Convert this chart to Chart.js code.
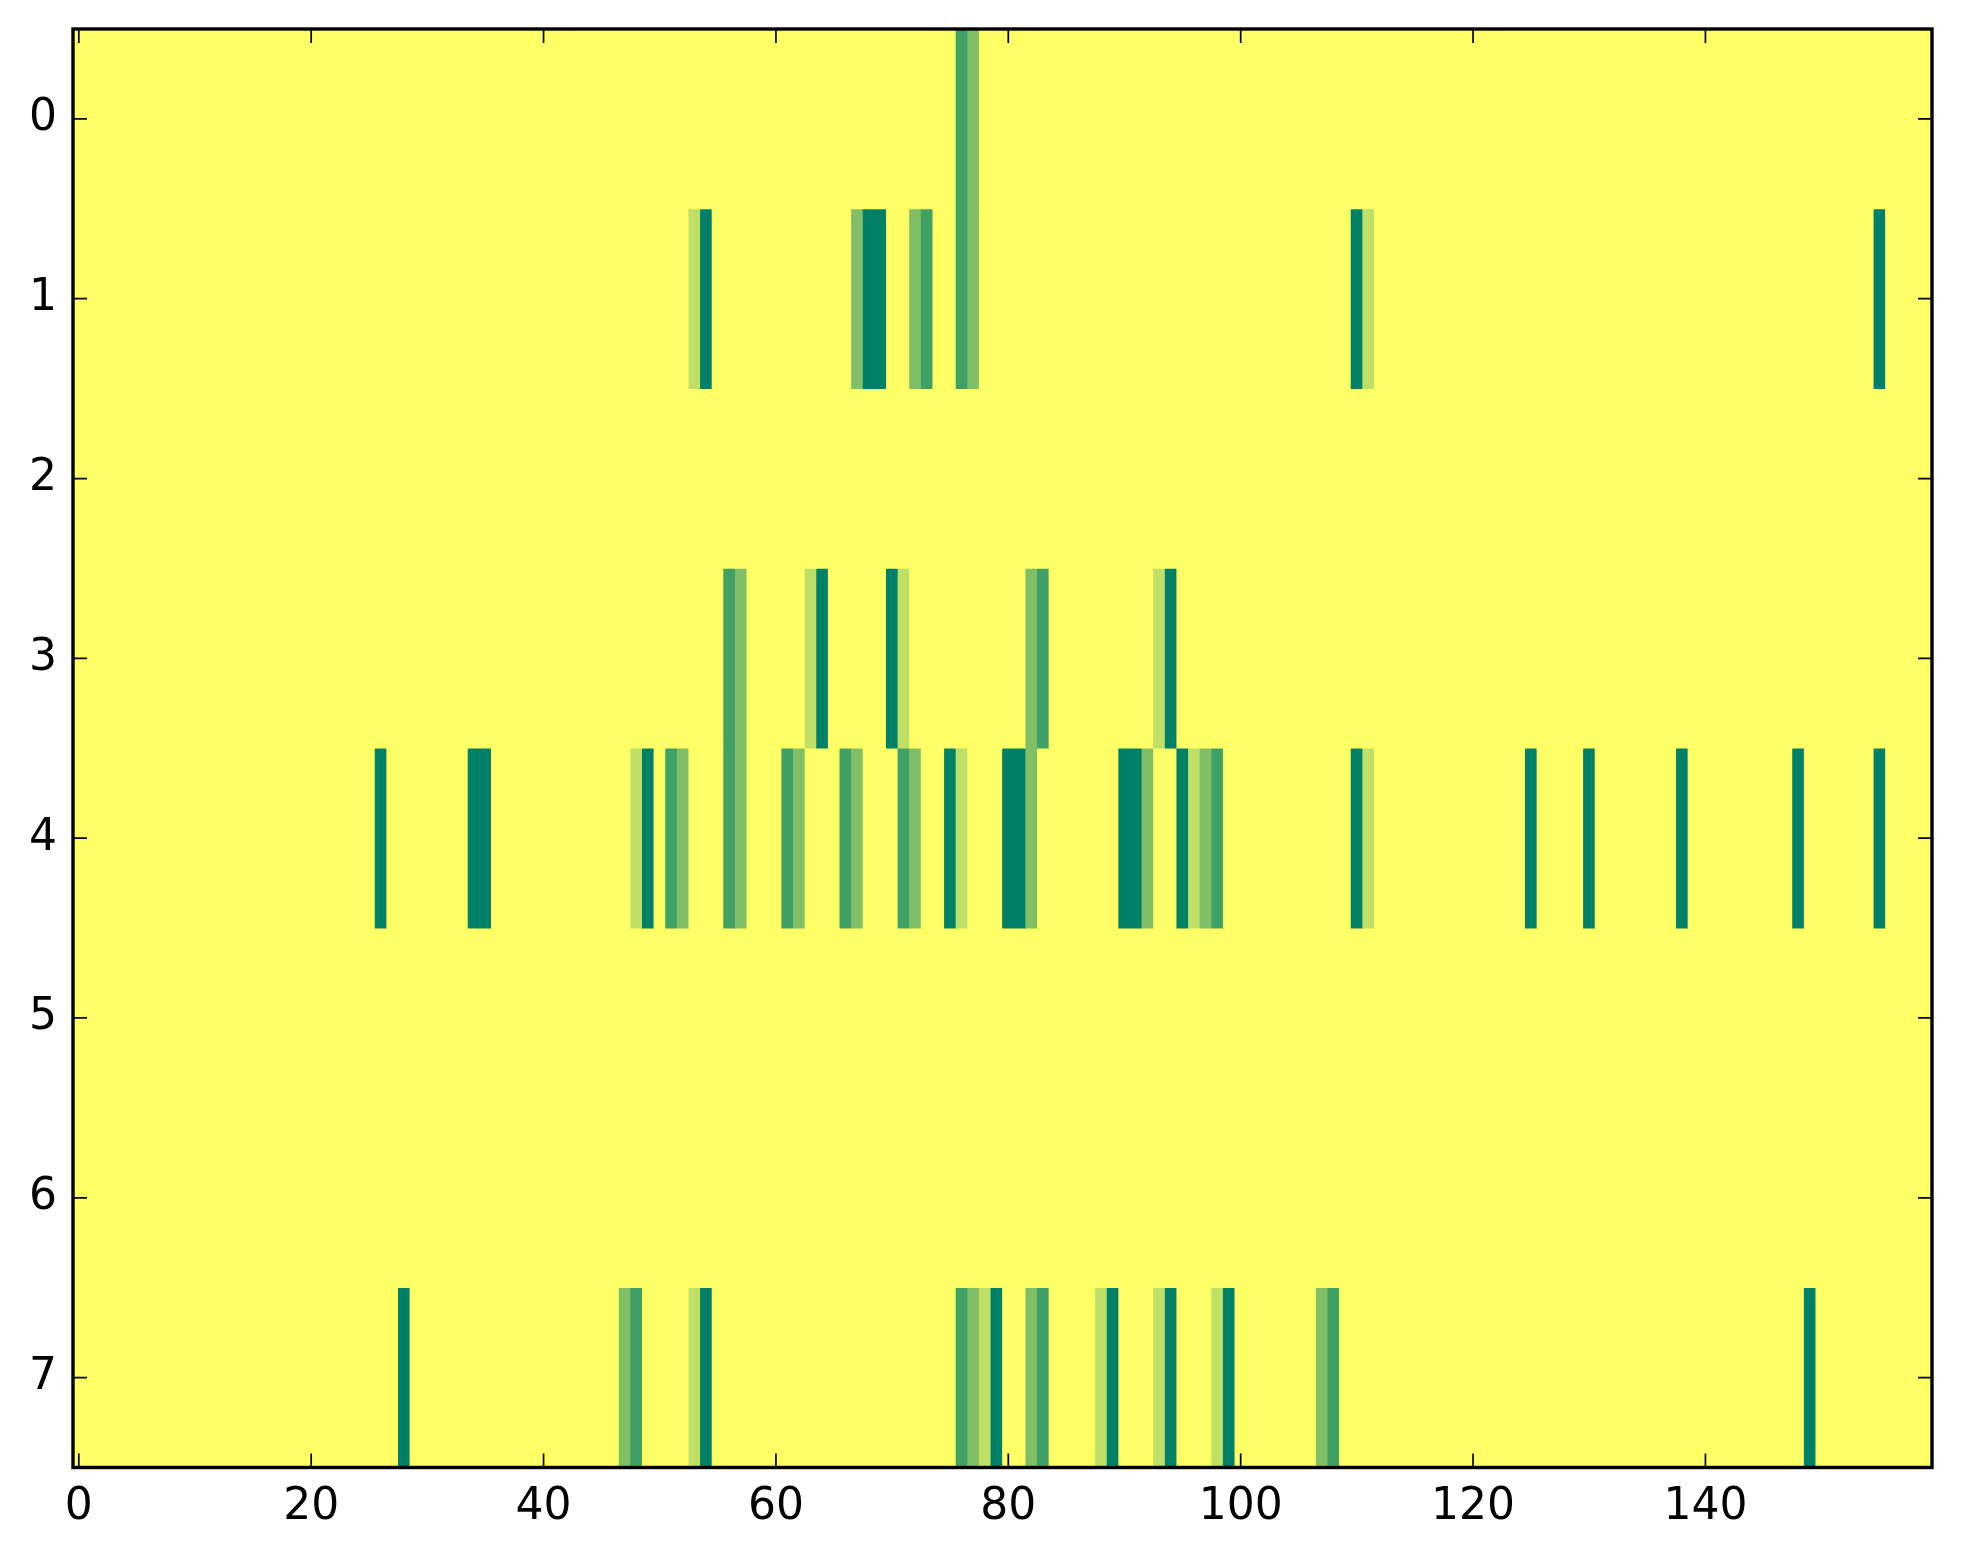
<!DOCTYPE html>
<html><head><meta charset="utf-8">
<script src="https://cdn.jsdelivr.net/npm/chart.js@4/dist/chart.umd.min.js"></script>
<style>html,body{margin:0;padding:0;background:#fff}</style>
</head><body>
<canvas id="c" width="1963" height="1564"></canvas>
<script>
// ---- data ----
const nCols = 160;
const rowLabels = [0, 1, 2, 3, 4, 5, 6, 7];
const xTickValues = [0, 20, 40, 60, 80, 100, 120, 140];

// sparse rows: column index and level (0 = empty)
const row0Cols = [76, 77];
const row0Vals = [3, 2];
const row1Cols = [53, 54, 67, 68, 69, 72, 73, 76, 77, 110, 111, 155];
const row1Vals = [1, 4, 2, 4, 4, 2, 3, 3, 2, 4, 1, 4];
const row2Cols = [];
const row2Vals = [];
const row3Cols = [56, 57, 63, 64, 70, 71, 82, 83, 93, 94];
const row3Vals = [3, 2, 1, 4, 4, 1, 2, 3, 1, 4];
const row4Cols = [26, 34, 35, 48, 49, 51, 52, 56, 57, 61, 62, 66, 67, 71, 72, 75, 76, 80, 81, 82, 90, 91, 92, 95, 96, 97, 98, 110, 111, 125, 130, 138, 148, 155];
const row4Vals = [4, 4, 4, 1, 4, 3, 2, 3, 2, 3, 2, 3, 2, 3, 2, 4, 1, 4, 4, 2, 4, 4, 2, 4, 1, 2, 3, 4, 1, 4, 4, 4, 4, 4];
const row5Cols = [];
const row5Vals = [];
const row6Cols = [];
const row6Vals = [];
const row7Cols = [28, 47, 48, 53, 54, 76, 77, 78, 79, 82, 83, 88, 89, 93, 94, 98, 99, 107, 108, 149];
const row7Vals = [4, 2, 3, 1, 4, 3, 2, 1, 4, 2, 3, 1, 4, 1, 4, 1, 4, 2, 3, 4];

const rowCols = [row0Cols, row1Cols, row2Cols, row3Cols, row4Cols, row5Cols, row6Cols, row7Cols];
const rowVals = [row0Vals, row1Vals, row2Vals, row3Vals, row4Vals, row5Vals, row6Vals, row7Vals];

// summer_r colormap levels
const palette = ['#ffff66', '#bfdf66', '#80bf66', '#40a066', '#008066'];

// ---- build datasets ----
const datasets = rowLabels.map((r, ri) => {
  const data = [];
  for (let c = 0; c < nCols; c++) {
    const k = rowCols[ri].indexOf(c);
    const v = k >= 0 ? rowVals[ri][k] : 0;
    data.push({ x: c, y: [r - 0.5, r + 0.5], v: v });
  }
  return {
    label: 'row ' + r,
    data: data,
    backgroundColor: ctx => palette[(ctx.raw && ctx.raw.v) || 0],
    borderWidth: 0,
    barPercentage: 1,
    categoryPercentage: 1,
    grouped: false
  };
});

const fontSpec = { family: 'DejaVu Sans', size: 44 };

const frame = {
  id: 'frame',
  beforeDatasetsDraw(chart) {
    const a = chart.chartArea, ctx = chart.ctx;
    ctx.save();
    ctx.fillStyle = palette[0];
    ctx.fillRect(a.left, a.top, a.right - a.left, a.bottom - a.top);
    ctx.restore();
  },
  afterDraw(chart) {
    const a = chart.chartArea, ctx = chart.ctx;
    const xs = chart.scales.x, ys = chart.scales.y;
    const L = 14;
    ctx.save();
    ctx.strokeStyle = '#000';
    ctx.lineWidth = 1.7;
    ctx.beginPath();
    xTickValues.forEach(v => {
      const p = xs.getPixelForValue(v);
      ctx.moveTo(p, a.bottom); ctx.lineTo(p, a.bottom - L);
      ctx.moveTo(p, a.top); ctx.lineTo(p, a.top + L);
    });
    rowLabels.forEach(v => {
      const p = ys.getPixelForValue(v);
      ctx.moveTo(a.left, p); ctx.lineTo(a.left + L, p);
      ctx.moveTo(a.right, p); ctx.lineTo(a.right - L, p);
    });
    ctx.stroke();
    ctx.lineWidth = 3.4;
    ctx.strokeRect(a.left, a.top, a.right - a.left, a.bottom - a.top);
    ctx.restore();
  }
};

new Chart(document.getElementById('c'), {
  type: 'bar',
  data: { datasets: datasets },
  options: {
    responsive: false,
    devicePixelRatio: 1,
    animation: false,
    layout: { padding: { top: 29, right: 31, left: 0, bottom: 0 } },
    plugins: { legend: { display: false }, tooltip: { enabled: false } },
    scales: {
      x: {
        type: 'linear',
        min: -0.5,
        max: nCols - 0.5,
        offset: false,
        grid: { display: false, drawTicks: false },
        border: { display: false },
        afterBuildTicks: s => { s.ticks = xTickValues.map(v => ({ value: v })); },
        afterFit: s => { s.height = 96.5; },
        ticks: { font: fontSpec, color: '#000', padding: 14, maxRotation: 0, autoSkip: false }
      },
      y: {
        type: 'linear',
        reverse: true,
        min: -0.5,
        max: rowLabels.length - 0.5,
        grid: { display: false, drawTicks: false },
        border: { display: false },
        afterBuildTicks: s => { s.ticks = rowLabels.map(v => ({ value: v })); },
        afterFit: s => { s.width = 73; s.paddingTop = 0; s.paddingBottom = 0; },
        ticks: { font: fontSpec, color: '#000', padding: 16, autoSkip: false }
      }
    }
  },
  plugins: [frame]
});
</script>
</body></html>
